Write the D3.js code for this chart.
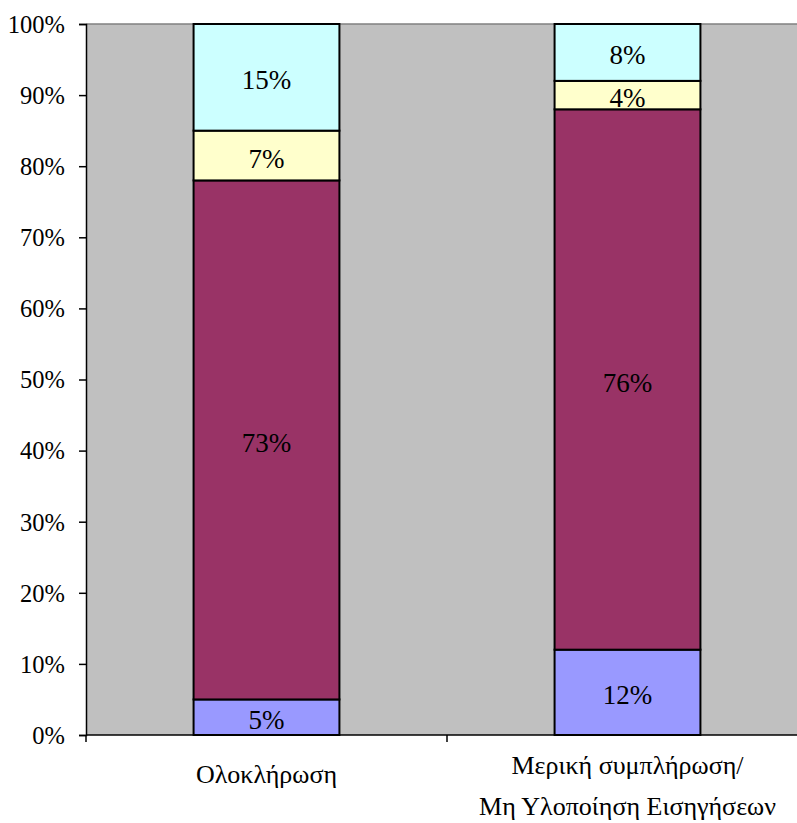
<!DOCTYPE html>
<html>
<head>
<meta charset="utf-8">
<script src="https://cdn.jsdelivr.net/npm/d3@7"></script>
<style>
  html, body { margin: 0; padding: 0; background: #fff; }
  svg { display: block; }
</style>
</head>
<body>
<svg id="chart" width="797" height="823"></svg>
<script>
// Categories (each label may span two lines)
const categories = [
  ["Ολοκλήρωση"],
  ["Μερική συμπλήρωση/", "Μη Υλοποίηση Εισηγήσεων"]
];
// Stacked series, bottom to top (percent)
const seriesNames = ["s1", "s2", "s3", "s4"];
const seriesColors = ["#9999FF", "#993366", "#FFFFCC", "#CCFFFF"];
const series1 = [5, 12];
const series2 = [73, 76];
const series3 = [7, 4];
const series4 = [15, 8];
const yTicks = [0, 10, 20, 30, 40, 50, 60, 70, 80, 90, 100];

const FONT = "'Times New Roman', 'Liberation Serif', serif";
const svg = d3.select("#chart")
  .attr("font-family", FONT);
const plot = { left: 86, top: 24, bottom: 735, catWidth: 361 };
const W = 797;

const x = d3.scaleBand()
  .domain(d3.range(categories.length))
  .range([plot.left, plot.left + plot.catWidth * categories.length])
  .paddingInner(0.596).paddingOuter(0.298);
const y = d3.scaleLinear().domain([0, 100]).range([plot.bottom, plot.top]);

// Plot area background
svg.append("rect")
  .attr("x", plot.left).attr("y", plot.top)
  .attr("width", W - plot.left).attr("height", plot.bottom - plot.top)
  .attr("fill", "#C0C0C0");
svg.append("line")
  .attr("x1", plot.left).attr("x2", W)
  .attr("y1", plot.top).attr("y2", plot.top)
  .attr("stroke", "#808080").attr("stroke-width", 1.5);

const rows = categories.map((c, i) => ({
  i, s1: series1[i], s2: series2[i], s3: series3[i], s4: series4[i]
}));
const stacked = d3.stack().keys(seriesNames)(rows);

const g = svg.append("g");
stacked.forEach((layer, li) => {
  layer.forEach(d => {
    const x0 = x(d.data.i), bw = x.bandwidth();
    const y0 = y(d[0]), y1 = y(d[1]);
    g.append("rect")
      .attr("x", x0).attr("y", y1)
      .attr("width", bw).attr("height", y0 - y1)
      .attr("fill", seriesColors[li])
      .attr("stroke", "#000").attr("stroke-width", 2);
    g.append("text")
      .attr("x", x0 + bw / 2)
      .attr("y", (y0 + y1) / 2 + 12)
      .attr("text-anchor", "middle")
      .attr("font-family", FONT)
      .attr("font-size", 27)
      .attr("fill", "#000")
      .text((d[1] - d[0]) + "%");
  });
});

// Y axis
const yAxis = d3.axisLeft(y)
  .tickValues(yTicks)
  .tickFormat(d => d + "%")
  .tickSize(7).tickPadding(14);
const ya = svg.append("g").attr("transform", `translate(${plot.left},0)`).call(yAxis)
  .attr("font-family", FONT).attr("font-size", 24);
ya.select(".domain").attr("stroke", "#000").attr("stroke-width", 1.5);
ya.selectAll(".tick line").attr("stroke", "#000").attr("stroke-width", 1.5);
ya.selectAll(".tick text")
  .attr("font-size", 24.5)
  .attr("font-family", FONT)
  .attr("fill", "#000")
  .attr("dy", "0.34em");

// X axis line and category separators
svg.append("line")
  .attr("x1", plot.left).attr("x2", W)
  .attr("y1", plot.bottom).attr("y2", plot.bottom)
  .attr("stroke", "#000").attr("stroke-width", 1.5);
d3.range(categories.length + 1).forEach(k => {
  const xx = plot.left + k * plot.catWidth;
  if (xx <= W) {
    svg.append("line")
      .attr("x1", xx).attr("x2", xx)
      .attr("y1", plot.bottom).attr("y2", plot.bottom + 7)
      .attr("stroke", "#000").attr("stroke-width", 1.5);
  }
});

// Category labels
categories.forEach((lines, i) => {
  const cx = x(i) + x.bandwidth() / 2;
  const baseY = lines.length === 1 ? 783 : 774;
  const t = svg.append("text")
    .attr("text-anchor", "middle")
    .attr("font-family", FONT)
    .attr("font-size", 26)
    .attr("fill", "#000");
  lines.forEach((ln, j) => {
    t.append("tspan").attr("x", cx).attr("y", baseY + j * 41).text(ln);
  });
});
</script>
</body>
</html>
